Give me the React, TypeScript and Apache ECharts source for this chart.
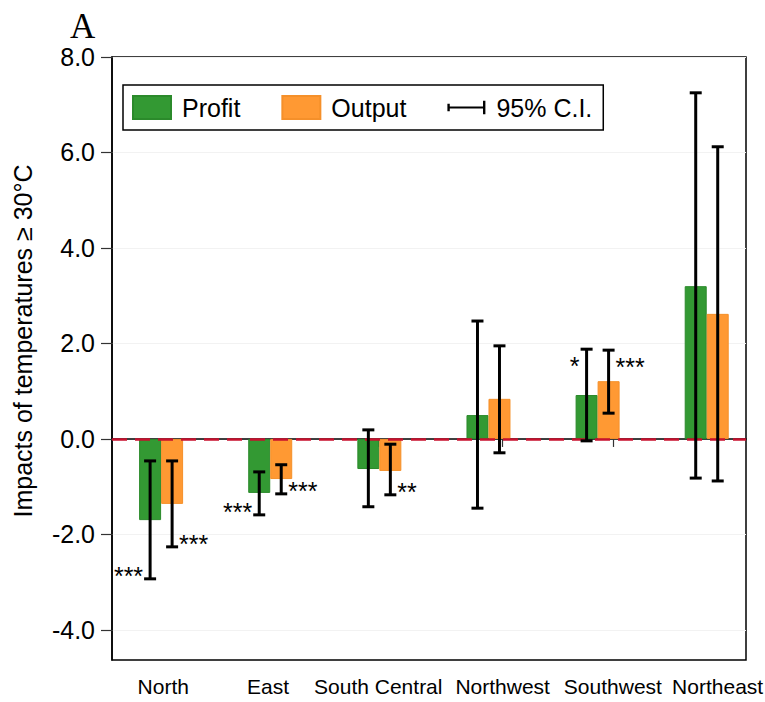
import React, { useEffect, useRef } from "react";
import * as echarts from "echarts";

// ---- data ----
const categories = ["North", "East", "South Central", "Northwest", "Southwest", "Northeast"];
const profit = [-1.7, -1.13, -0.63, 0.5, 0.92, 3.2];
const output = [-1.36, -0.84, -0.67, 0.84, 1.21, 2.62];
const profitLow = [-2.93, -1.59, -1.42, -1.45, -0.04, -0.82];
const profitHigh = [-0.46, -0.69, 0.19, 2.47, 1.88, 7.25];
const outputLow = [-2.26, -1.15, -1.17, -0.29, 0.54, -0.88];
const outputHigh = [-0.46, -0.54, -0.11, 1.95, 1.86, 6.12];
const profitStars = ["***", "***", "", "", "*", ""];
const outputStars = ["***", "***", "**", "", "***", ""];
const yTicks = [-4, -2, 0, 2, 4, 6, 8];
const yTitle = "Impacts of temperatures \u2265 30\u00B0C";

// ---- layout (positions of the category labels on the x scale) ----
const labelPos = [1.02, 1.98, 2.99, 4.13, 5.14, 6.1];

const FONT = "'Liberation Sans', Arial, Helvetica, sans-serif";

function ciSeries(name: string, low: number[], high: number[], stars: string[], offset: number, side: "left" | "right") {
  return {
    type: "custom",
    name,
    z: 5,
    itemStyle: { color: "#000" },
    encode: { x: 0, y: [1, 2] },
    data: low.map((l, i) => [i + 1, l, high[i]]),
    renderItem: (params: any, api: any) => {
      const x = api.value(0);
      const lo = api.value(1);
      const hi = api.value(2);
      const pHi = api.coord([x, hi]);
      const pLo = api.coord([x, lo]);
      const cx = pHi[0] + offset;
      const cap = 6;
      const st = { stroke: "#000", lineWidth: 3 };
      const children: any[] = [
        { type: "line", shape: { x1: cx, y1: pHi[1], x2: cx, y2: pLo[1] }, style: st },
        { type: "line", shape: { x1: cx - cap, y1: pHi[1], x2: cx + cap, y2: pHi[1] }, style: st },
        { type: "line", shape: { x1: cx - cap, y1: pLo[1], x2: cx + cap, y2: pLo[1] }, style: st },
      ];
      const s = stars[params.dataIndex];
      if (s) {
        const useLow = Math.abs(lo) > Math.abs(hi);
        const y = useLow ? pLo[1] - 3 : pHi[1] + 17;
        children.push({
          type: "text",
          style: {
            text: s,
            x: side === "left" ? cx - 7 : cx + 7,
            y,
            align: side === "left" ? "right" : "left",
            verticalAlign: "middle",
            fontSize: 25,
            fontFamily: FONT,
            fill: "#000",
          },
        });
      }
      return { type: "group", children };
    },
  };
}

export default function App() {
  const ref = useRef<HTMLDivElement>(null);
  useEffect(() => {
    document.body.style.margin = "0";
    const chart = echarts.init(ref.current!, null, { renderer: "svg" });
    const option: any = {
      animation: false,
      backgroundColor: "#fff",
      title: {
        text: "A",
        left: 65,
        top: 4,
        textStyle: { fontFamily: "'Liberation Serif', 'Times New Roman', serif", fontSize: 35, fontWeight: "normal", color: "#000" },
      },
      graphic: [
        {
          type: "text",
          x: 23,
          y: 341,
          rotation: Math.PI / 2,
          style: {
            text: yTitle,
            align: "center",
            verticalAlign: "middle",
            fontFamily: FONT,
            fontSize: 25,
            fill: "#000",
          },
        },
      ],
      legend: {
        left: 123,
        top: 85,
        orient: "horizontal",
        padding: [10, 11, 10, 9],
        borderColor: "#000",
        borderWidth: 1.5,
        itemWidth: 38,
        itemHeight: 23,
        itemGap: 41,
        textStyle: { fontFamily: FONT, fontSize: 25, color: "#000", padding: [0, 0, 0, 6] },
        data: [
          { name: "Profit", icon: "rect" },
          { name: "Output", icon: "rect" },
          { name: "95% C.I.", icon: "path://M0,3 H2.5 V6 H37.5 V0 H40 V14 H37.5 V8 H2.5 V11 H0 Z" },
        ],
      },
      grid: {
        left: 112,
        right: 19,
        top: 57,
        bottom: 42,
        outerBoundsMode: "none",
        containLabel: false,
        show: true,
        borderColor: "#000",
        borderWidth: 1.5,
        backgroundColor: "#fff",
      },
      xAxis: {
        type: "value",
        min: 0.55,
        max: 6.36,
        axisLine: { show: true, lineStyle: { color: "#000", width: 1.5 } },
        axisTick: { show: true, length: 8, customValues: labelPos, lineStyle: { color: "#333", width: 1.2 } },
        axisLabel: {
          customValues: labelPos,
          margin: 16,
          fontFamily: FONT,
          fontSize: 21,
          color: "#000",
          formatter: (v: number) => {
            let best = 0;
            labelPos.forEach((p, i) => {
              if (Math.abs(p - v) < Math.abs(labelPos[best] - v)) best = i;
            });
            return categories[best];
          },
        },
        splitLine: { show: false },
      },
      yAxis: {
        type: "value",
        min: -4.63,
        max: 8,
        axisLine: { show: true, lineStyle: { color: "#000", width: 1.5 } },
        axisTick: { show: true, length: 11, customValues: yTicks, lineStyle: { color: "#333", width: 1.2 } },
        axisLabel: {
          customValues: yTicks,
          margin: 17,
          fontFamily: FONT,
          fontSize: 25,
          color: "#000",
          formatter: (v: number) => v.toFixed(1),
        },
        splitLine: { show: true, lineStyle: { color: "#f2f2f2", width: 1 } },
      },
      series: [
        {
          type: "bar",
          name: "Profit",
          barWidth: 22,
          barGap: "0%",
          itemStyle: { color: "#339933", borderColor: "#2b8a2b", borderWidth: 1 },
          data: profit.map((v, i) => [i + 1, v]),
          markLine: {
            silent: true,
            symbol: "none",
            label: { show: false },
            z: 4,
            lineStyle: { color: "#c8102e", type: [15, 8], width: 2.5 },
            data: [{ yAxis: 0 }],
          },
        },
        {
          type: "bar",
          name: "Output",
          barWidth: 22,
          barGap: "0%",
          itemStyle: { color: "#ff9933", borderColor: "#f5902a", borderWidth: 1 },
          data: output.map((v, i) => [i + 1, v]),
        },
        ciSeries("95% C.I.", profitLow, profitHigh, profitStars, -11, "left"),
        ciSeries("95% C.I.", outputLow, outputHigh, outputStars, 11, "right"),
      ],
    };
    chart.setOption(option);
    return () => chart.dispose();
  }, []);
  return <div ref={ref} style={{ width: 765, height: 702 }} />;
}
